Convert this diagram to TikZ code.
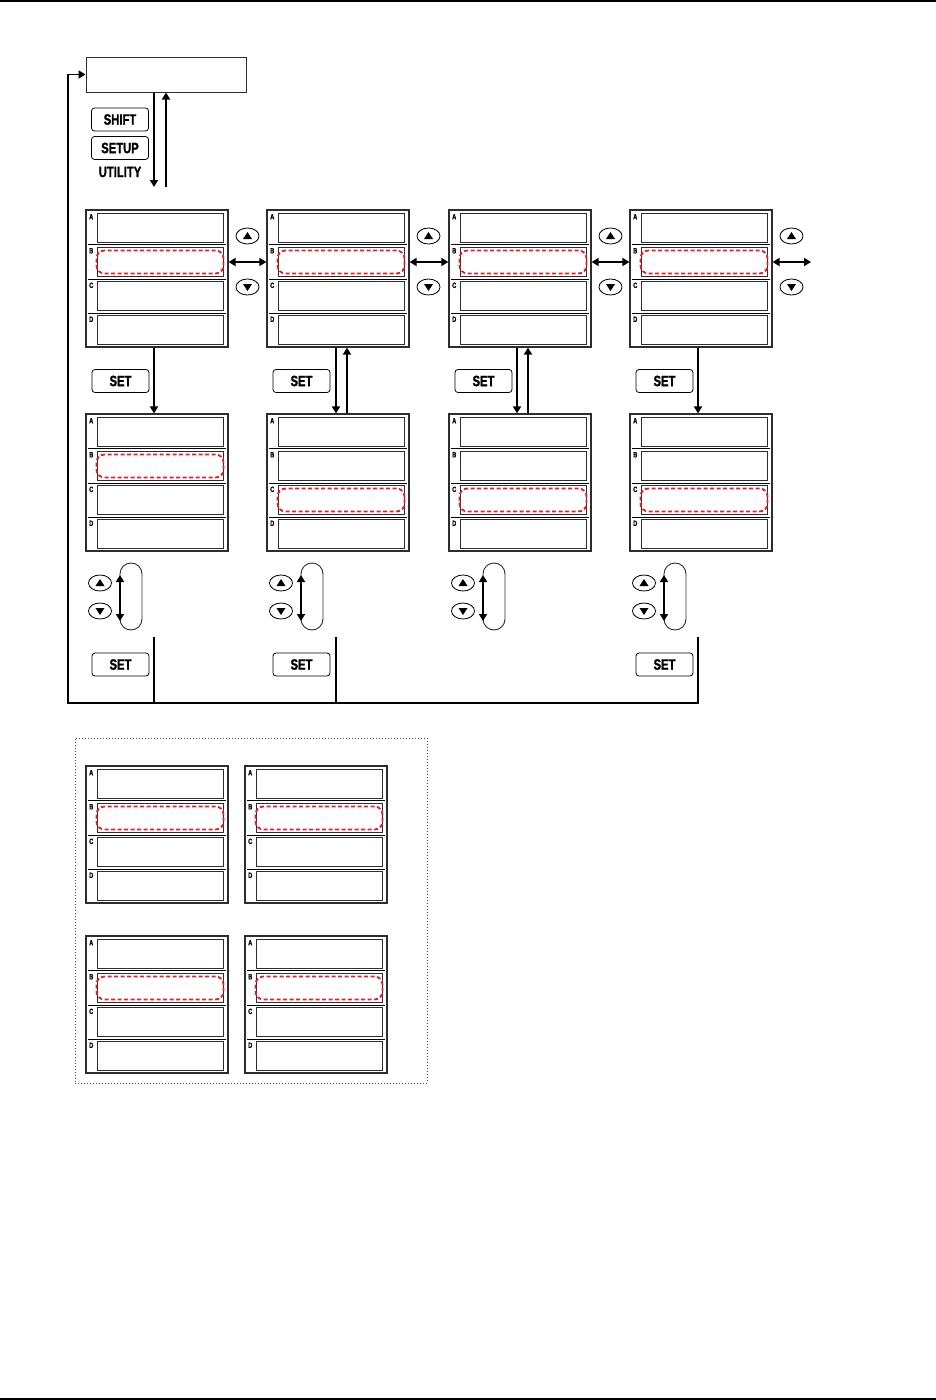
\documentclass[tikz,border=0pt]{standalone}
\usepackage{fontspec}
\setmainfont{Liberation Sans}
\newfontfamily\cnd[FakeStretch=0.75,BoldFeatures={FakeBold=1.2}]{Liberation Sans}
\usetikzlibrary{arrows.meta,calc,shapes.geometric}
\definecolor{hired}{RGB}{232,28,40}
\definecolor{pgray}{RGB}{45,45,45}
\tikzset{
  panel/.style={draw=pgray,line width=1.2pt,minimum width=142pt,minimum height=137pt,inner sep=0pt},
  disp/.style={draw=pgray,line width=1pt,minimum width=126pt,minimum height=29pt,inner sep=0pt},
  sepline/.style={draw=black,line width=1pt},
  lbl/.style={anchor=north west,inner sep=0pt,font=\cnd\bfseries\fontsize{7.5}{7.5}\selectfont},
  hl/.style={draw=hired,line width=1.8pt,dash pattern=on 4pt off 2.5pt,rounded corners=8pt,minimum width=127pt,minimum height=23pt,inner sep=0pt},
  btn/.style={draw=black,line width=0.8pt,rounded corners=3pt,minimum width=57pt,minimum height=23pt,inner sep=0pt,font=\cnd\bfseries\fontsize{15}{15}\selectfont},
  txt/.style={inner sep=0pt,font=\cnd\bfseries\fontsize{15}{15}\selectfont},
  key/.style={draw=black,line width=0.8pt,ellipse,minimum width=23pt,minimum height=16pt,inner sep=0pt},
  conn/.style={draw=black,line width=1.9pt},
  arr/.style={conn,-{Triangle[length=7pt,width=8pt]}},
  darr/.style={conn,{Triangle[length=7pt,width=8pt]}-{Triangle[length=7pt,width=8pt]}},
  loopline/.style={draw=pgray,line width=0.9pt,rounded corners=11pt},
}
\newcommand\mypanel[3]{%
  \node[panel] (#1) at (#2+71,#3+68.5) {};
  \node[disp] (#1A) at (#2+74,#3+17.5) {};
  \node[disp] (#1B) at (#2+74,#3+52) {};
  \node[disp] (#1C) at (#2+74,#3+86) {};
  \node[disp] (#1D) at (#2+74,#3+120) {};
  \draw[sepline] (#2+2,#3+34.5) -- (#2+140,#3+34.5);
  \draw[sepline] (#2+2,#3+69) -- (#2+140,#3+69);
  \draw[sepline] (#2+2,#3+103) -- (#2+140,#3+103);
  \node[lbl] (#1la) at (#2+3,#3+4) {A};
  \node[lbl] (#1lb) at (#2+3,#3+38) {B};
  \node[lbl] (#1lc) at (#2+3,#3+72.5) {C};
  \node[lbl] (#1ld) at (#2+3,#3+106.5) {D};
}
\newcommand\hlrow[2]{\node[hl] (#1hl) at (#1#2) {};}
\newcommand\upkey[3]{%
  \node[key] (#1) at (#2,#3) {};
  \fill ([shift={(-4.5,3)}]#1.center) -- ([shift={(4.5,3)}]#1.center) -- ([shift={(0,-4)}]#1.center) -- cycle;
}
\newcommand\dnkey[3]{%
  \node[key] (#1) at (#2,#3) {};
  \fill ([shift={(-4.5,-3)}]#1.center) -- ([shift={(4.5,-3)}]#1.center) -- ([shift={(0,4)}]#1.center) -- cycle;
}
\begin{document}
\begin{tikzpicture}[x=1pt,y=-1pt]
\useasboundingbox (0,0) rectangle (936,1400);
% page rules
\coordinate (tl) at (0,0.8);
\coordinate (tr) at (936,0.8);
\coordinate (bl) at (0,1399);
\coordinate (br) at (936,1399);
\draw[line width=1.5pt] (tl) -- (tr);
\draw[line width=1.5pt] (bl) -- (br);

% top box and keys
\node[draw=pgray,line width=1pt,minimum width=160pt,minimum height=35pt,inner sep=0pt] (top) at (166,74.5) {};
\node[btn] (shift) at (120,119.5) {SHIFT};
\node[btn] (setup) at (120,148) {SETUP};
\node[txt] (util) at (120,172) {UTILITY};
\coordinate (tdn) at (154,187);
\coordinate (tup) at (166,187);
\draw[arr] (top.south -| tdn) -- (tdn);
\draw[arr] (tup) -- (top.south -| tup);

% row 1 panels
\mypanel{p11}{86}{210}
\mypanel{p12}{267}{210}
\mypanel{p13}{449}{210}
\mypanel{p14}{630}{210}
\hlrow{p11}{B}\hlrow{p12}{B}\hlrow{p13}{B}\hlrow{p14}{B}

% row 2 panels
\mypanel{p21}{86}{414}
\mypanel{p22}{267}{414}
\mypanel{p23}{449}{414}
\mypanel{p24}{630}{414}
\hlrow{p21}{B}\hlrow{p22}{C}\hlrow{p23}{C}\hlrow{p24}{C}

% horizontal arrows and keys between row 1 panels
\draw[darr] (p11.east |- p11B) -- (p12.west |- p12B);
\draw[darr] (p12.east |- p12B) -- (p13.west |- p13B);
\draw[darr] (p13.east |- p13B) -- (p14.west |- p14B);
\coordinate (rend) at (811,262);
\draw[darr] (p14.east |- p14B) -- (rend |- p14B);
\upkey{ku1}{247.5}{236}\dnkey{kd1}{247.5}{287}
\upkey{ku2}{428.5}{236}\dnkey{kd2}{428.5}{287}
\upkey{ku3}{610.5}{236}\dnkey{kd3}{610.5}{287}
\upkey{ku4}{791.5}{236}\dnkey{kd4}{791.5}{287}

% SET between rows
\node[btn] (s1) at (120.5,381) {SET};
\node[btn] (s2) at (301.5,381) {SET};
\node[btn] (s3) at (483.5,381) {SET};
\node[btn] (s4) at (664.5,381) {SET};
\draw[arr] ([xshift=-3pt]p11.south) -- ([xshift=-3pt]p21.north);
\draw[arr] ([xshift=-2pt]p12.south) -- ([xshift=-2pt]p22.north);
\draw[arr] ([xshift=9pt]p22.north) -- ([xshift=9pt]p12.south);
\draw[arr] ([xshift=-3pt]p13.south) -- ([xshift=-3pt]p23.north);
\draw[arr] ([xshift=8pt]p23.north) -- ([xshift=8pt]p13.south);
\draw[arr] ([xshift=-3pt]p14.south) -- ([xshift=-3pt]p24.north);

% loops under row 2
\foreach \L/\n in {86/1,267/2,449/3,630/4}{
  \draw[loopline] (\L+34,563) rectangle (\L+56,630);
  \coordinate (lt\n) at (\L+34,575);
  \coordinate (lb\n) at (\L+34,621);
  \draw[darr] (lt\n) -- (lb\n);
  \upkey{lu\n}{\L+14}{583}
  \dnkey{ld\n}{\L+14}{611}
}

% SET keys in row 3
\node[btn] (t1) at (120.5,664.5) {SET};
\node[btn] (t2) at (301.5,664.5) {SET};
\node[btn] (t4) at (664.5,664.5) {SET};

% return path
\coordinate (j1) at (154,637);
\coordinate (j2) at (336,637);
\coordinate (j4) at (698,637);
\coordinate (corner) at (68,703);
\draw[arr] (j4) |- (corner) |- (top.west);
\draw[conn] (j1) -- (j1 |- corner);
\draw[conn] (j2) -- (j2 |- corner);

% lower group
\node[draw=black!70,dotted,line width=1pt,minimum width=352pt,minimum height=345pt,inner sep=0pt] (grp) at (251,910.5) {};
\mypanel{q1}{86}{766}
\mypanel{q2}{245}{766}
\mypanel{q3}{86}{936}
\mypanel{q4}{245}{936}
\hlrow{q1}{B}\hlrow{q2}{B}\hlrow{q3}{B}\hlrow{q4}{B}
\end{tikzpicture}
\end{document}
